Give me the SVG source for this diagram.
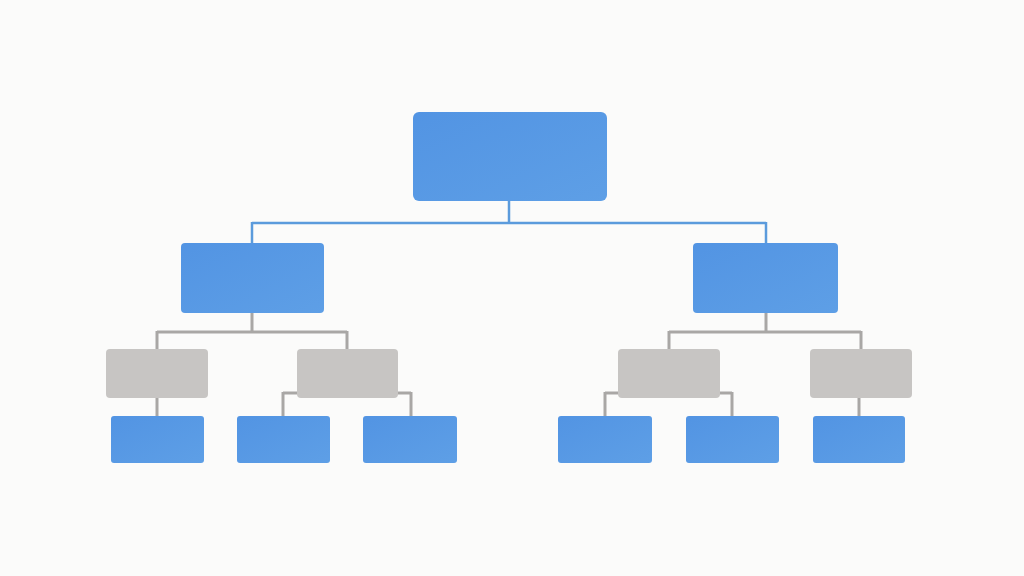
<svg xmlns="http://www.w3.org/2000/svg" width="1024" height="576" viewBox="0 0 1024 576">
<defs>
<linearGradient id="bg" x1="0" y1="0" x2="1" y2="1">
<stop offset="0" stop-color="#5294e3"/>
<stop offset="1" stop-color="#5e9fe6"/>
</linearGradient>
<style>
.blue{fill:url(#bg);}
.gray{fill:#c7c5c3;}
.lb{stroke:#5b9bdc;stroke-width:2.5;fill:none;}
.lg{stroke:#a9a7a5;stroke-width:3;fill:none;}
</style>
</defs>
<rect width="1024" height="576" fill="#fbfbfa"/>
<g id="connectors">
<path class="lb" d="M509,201 V223 M252,223 H766 M252,222 V243 M766,222 V243"/>
<path class="lg" d="M252,313 V332 M157,332 H347 M157,331 V349 M347,331 V349 M157,398 V416 M283,393 H411 M283,392 V416 M411,392 V416"/>
<path class="lg" d="M766,313 V332 M669,332 H861 M669,331 V349 M861,331 V349 M859,398 V416 M605,393 H732 M605,392 V416 M732,392 V416"/>
</g>
<g id="root"><rect class="blue" x="413" y="112" width="194" height="89" rx="6"/></g>
<g id="mid-left"><rect class="blue" x="181" y="243" width="143" height="70" rx="4"/></g>
<g id="mid-right"><rect class="blue" x="693" y="243" width="145" height="70" rx="4"/></g>
<g id="gray-1"><rect class="gray" x="106" y="349" width="102" height="49" rx="4"/></g>
<g id="gray-2"><rect class="gray" x="297" y="349" width="101" height="49" rx="4"/></g>
<g id="gray-3"><rect class="gray" x="618" y="349" width="102" height="49" rx="4"/></g>
<g id="gray-4"><rect class="gray" x="810" y="349" width="102" height="49" rx="4"/></g>
<g id="leaf-1"><rect class="blue" x="111" y="416" width="93" height="47" rx="3"/></g>
<g id="leaf-2"><rect class="blue" x="237" y="416" width="93" height="47" rx="3"/></g>
<g id="leaf-3"><rect class="blue" x="363" y="416" width="94" height="47" rx="3"/></g>
<g id="leaf-4"><rect class="blue" x="558" y="416" width="94" height="47" rx="3"/></g>
<g id="leaf-5"><rect class="blue" x="686" y="416" width="93" height="47" rx="3"/></g>
<g id="leaf-6"><rect class="blue" x="813" y="416" width="92" height="47" rx="3"/></g>
</svg>
